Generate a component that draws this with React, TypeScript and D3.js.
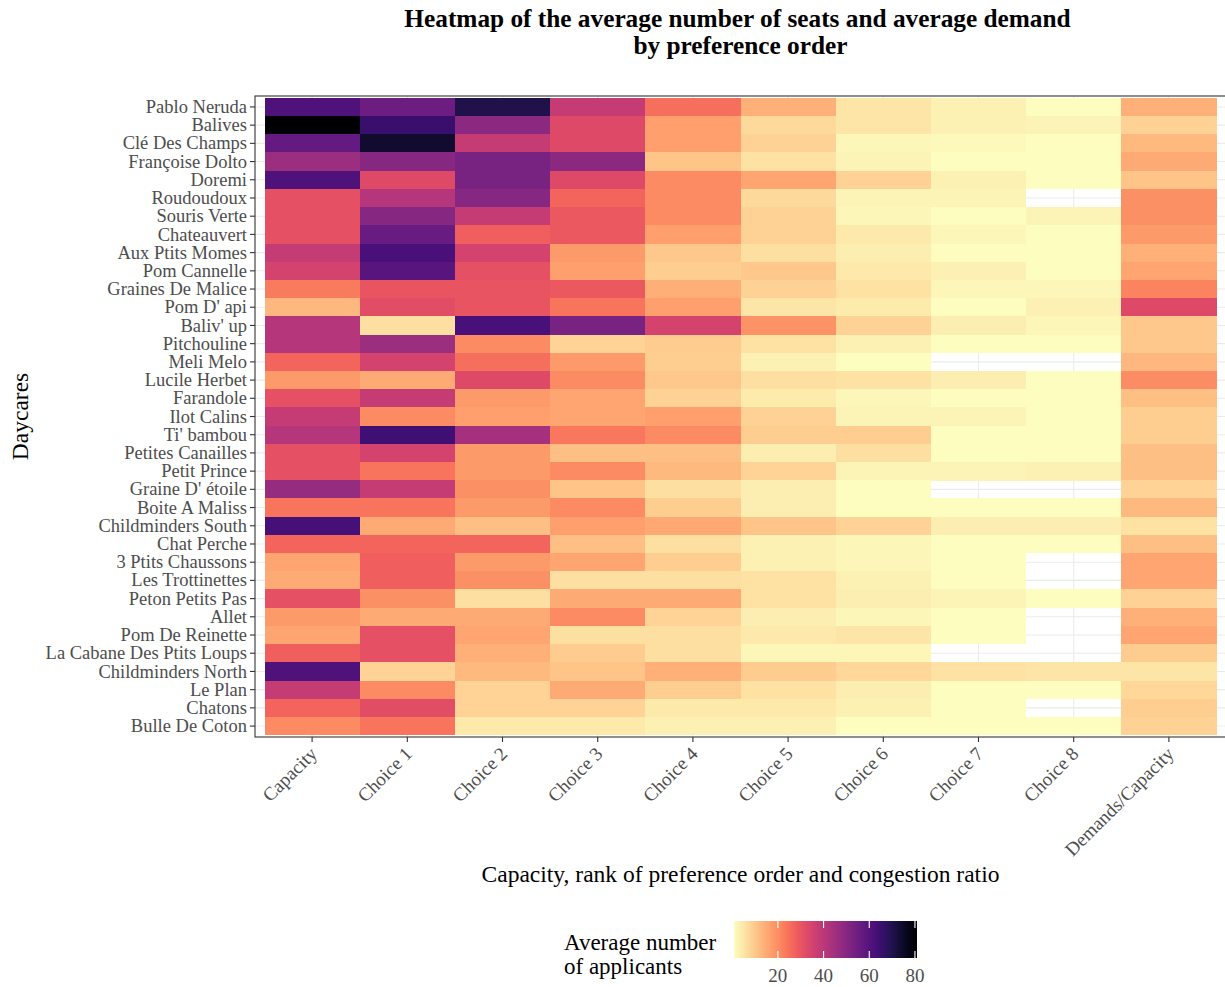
import React from 'react';
import * as d3 from 'd3';

const daycares = [
  'Pablo Neruda', 'Balives', 'Clé Des Champs', 'Françoise Dolto', 'Doremi', 'Roudoudoux',
  'Souris Verte', 'Chateauvert', 'Aux Ptits Momes', 'Pom Cannelle', 'Graines De Malice',
  "Pom D' api", "Baliv' up", 'Pitchouline', 'Meli Melo', 'Lucile Herbet', 'Farandole',
  'Ilot Calins', "Ti' bambou", 'Petites Canailles', 'Petit Prince', "Graine D' étoile",
  'Boite A Maliss', 'Childminders South', 'Chat Perche', '3 Ptits Chaussons',
  'Les Trottinettes', 'Peton Petits Pas', 'Allet', 'Pom De Reinette',
  'La Cabane Des Ptits Loups', 'Childminders North', 'Le Plan', 'Chatons', 'Bulle De Coton',
];

const columns = [
  'Capacity', 'Choice 1', 'Choice 2', 'Choice 3', 'Choice 4', 'Choice 5',
  'Choice 6', 'Choice 7', 'Choice 8', 'Demands/Capacity',
];

type V = number | null;

const capacity: V[] = [61, 80.9, 57, 46, 61, 31, 31, 31, 38, 35, 23, 13, 41, 41, 27, 18, 31, 38, 41, 31, 31, 47, 24, 63, 27, 16, 15, 31, 18, 16, 28, 61, 38, 27, 20.5];
const choice1: V[] = [55, 65, 74, 50, 33, 41, 50, 56, 62, 59, 30, 32, 6, 46, 35, 15, 38, 20.5, 64, 35, 24, 38, 24, 15, 27, 28, 28, 19.5, 15, 31, 31, 8, 20.5, 32, 24];
const choice2: V[] = [70, 49, 38, 53, 53, 50, 38, 28, 35, 31, 30, 30, 62, 20.5, 25, 33, 18, 17, 44, 18, 18, 19.5, 18, 11.5, 27, 18, 19.5, 6, 15, 16, 14, 12.5, 8, 8, 4.5];
const choice3: V[] = [38, 33, 33, 49, 33, 27, 29, 29, 18, 17, 29, 24, 53, 8, 18, 20.5, 16, 16, 23.5, 11.5, 20.5, 10.5, 20.5, 17, 11.5, 16, 6, 15, 20.5, 6, 9.5, 10.5, 15, 8, 4.5];
const choice4: V[] = [25, 17, 17, 10.5, 20.5, 20.5, 20.5, 17, 10, 9, 14.5, 17, 35, 9.5, 9, 10, 8.5, 17, 20.5, 11.5, 12.5, 6, 9, 15.5, 6, 9, 6, 15, 8, 6, 6, 14, 9, 4.5, 3];
const choice5: V[] = [14, 7, 8.5, 5.5, 16, 7, 8.5, 8.5, 6, 10, 8.5, 5, 19, 5.5, 3, 6, 4, 8.5, 9, 3.5, 8, 3.5, 3.5, 10.5, 3, 3, 5.5, 5.5, 3.5, 4.5, 2, 9.5, 5.5, 4.5, 3];
const choice6: V[] = [5, 5, 2, 2.5, 8.5, 2.5, 2, 4.5, 3.5, 4.5, 5.5, 4, 8.5, 3, 1, 5.5, 2, 2.5, 9, 6, 2.5, 1, 1, 8, 2, 2, 3, 3.5, 2, 5, 2, 7.5, 3.5, 3, 1];
const choice7: V[] = [3, 3, 1.5, 1, 3, 2.5, 1, 2, 1, 3, 2, 1, 3.5, 1, null, 3.5, 1, 2.5, 1, 1, 2.5, null, 1, 3.5, 1, 1, 1, 2.5, 1, 1, null, 5.5, 1, 1, 1];
const choice8: V[] = [0.8, 2.5, 1, 1, 1, null, 2.5, 1, 1, 1, 2, 3, 2, 1, null, 1, 1, 1, 1, 1, 3, null, 1, 3.5, 1, null, null, 1, null, null, null, 5, 1, null, 1];
const demandsCapacity: V[] = [14, 8.5, 12.5, 15, 10.5, 19.5, 19.5, 18, 14, 16, 21.5, 33, 10, 10, 13, 20, 11.5, 9, 9, 11.5, 11.5, 8, 12.5, 5.5, 11.5, 16, 16, 8.5, 14, 16, 9.5, 5, 7.5, 9, 8.5];

const seriesByColumn: V[][] = [capacity, choice1, choice2, choice3, choice4, choice5, choice6, choice7, choice8, demandsCapacity];

const legendTicks = [20, 40, 60, 80];

const titleLines = ['Heatmap of the average number of seats and average demand', 'by preference order'];
const xTitle = 'Capacity, rank of preference order and congestion ratio';
const yTitle = 'Daycares';
const legendTitle = ['Average number', 'of applicants'];

const FONT = '"Liberation Serif", "Times New Roman", serif';

export default function App() {
  const W = 1225;
  const H = 987;
  const panel = { l: 255, r: 1226, t: 96, b: 737 };

  const x = d3.scaleBand<string>().domain(columns).range([panel.l, panel.r]).paddingInner(0).paddingOuter(0.1);
  const y = d3.scaleBand<string>().domain(daycares).range([panel.t, panel.b]).paddingInner(0).paddingOuter(0.1);

  const all = seriesByColumn.flat().filter((v): v is number => v != null);
  const [vmin, vmax] = d3.extent(all) as [number, number];
  const color = d3.scaleSequential((t: number) => d3.interpolateMagma(1 - t)).domain([vmin, vmax]);

  const bw = x.bandwidth();
  const bh = y.bandwidth();

  const cells: { key: string; x: number; y: number; fill: string }[] = [];
  columns.forEach((c, ci) => {
    daycares.forEach((d, di) => {
      const v = seriesByColumn[ci][di];
      if (v == null) return;
      cells.push({ key: `${c}-${d}`, x: x(c)!, y: y(d)!, fill: color(v) });
    });
  });

  const leg = { x0: 734, x1: 917, y0: 921, y1: 958 };
  const lx = d3.scaleLinear().domain([vmin, vmax]).range([leg.x0, leg.x1]);
  const gradStops = d3.range(0, 1.0001, 0.05).map((t) => ({ t, c: color(vmin + t * (vmax - vmin)) }));

  const tickColor = '#333333';
  const labelColor = '#4D4D4D';

  return (
    <svg width={W} height={H} style={{ position: 'absolute', left: 0, top: 0, display: 'block', background: '#fff' }} fontFamily={FONT}>
      <defs>
        <linearGradient id="legGrad" x1="0" x2="1" y1="0" y2="0">
          {gradStops.map((s) => (
            <stop key={s.t} offset={`${s.t * 100}%`} stopColor={s.c} />
          ))}
        </linearGradient>
      </defs>
      <rect x={0} y={0} width={W} height={H} fill="#fff" />

      {/* Title */}
      <text x={(panel.l + panel.r) / 2 - 3} y={27} textAnchor="middle" fontWeight="bold" fontSize={25.3} fill="#000">
        {titleLines[0]}
      </text>
      <text x={(panel.l + panel.r) / 2} y={54} textAnchor="middle" fontWeight="bold" fontSize={25.3} fill="#000">
        {titleLines[1]}
      </text>

      {/* panel background + grid */}
      <rect x={panel.l} y={panel.t} width={panel.r - panel.l} height={panel.b - panel.t} fill="#fff" />
      {columns.map((c) => (
        <line key={`gx-${c}`} x1={x(c)! + bw / 2} x2={x(c)! + bw / 2} y1={panel.t} y2={panel.b} stroke="#EBEBEB" strokeWidth={1.1} />
      ))}
      {daycares.map((d) => (
        <line key={`gy-${d}`} x1={panel.l} x2={panel.r} y1={y(d)! + bh / 2} y2={y(d)! + bh / 2} stroke="#EBEBEB" strokeWidth={1.1} />
      ))}

      {/* tiles */}
      <g shapeRendering="crispEdges">
        {cells.map((c) => (
          <rect key={c.key} x={c.x} y={c.y} width={bw + 0.3} height={bh + 0.3} fill={c.fill} />
        ))}
      </g>

      {/* panel border */}
      <rect x={panel.l} y={panel.t} width={panel.r - panel.l} height={panel.b - panel.t} fill="none" stroke={tickColor} strokeWidth={1.1} />

      {/* y axis */}
      {daycares.map((d) => {
        const cy = y(d)! + bh / 2;
        return (
          <g key={`yt-${d}`}>
            <line x1={panel.l - 5} x2={panel.l} y1={cy} y2={cy} stroke={tickColor} strokeWidth={1.1} />
            <text x={panel.l - 8} y={cy} dy="0.33em" textAnchor="end" fontSize={18.5} fill={labelColor}>
              {d}
            </text>
          </g>
        );
      })}

      {/* x axis */}
      {columns.map((c) => {
        const cx = x(c)! + bw / 2;
        return (
          <g key={`xt-${c}`}>
            <line x1={cx} x2={cx} y1={panel.b} y2={panel.b + 5} stroke={tickColor} strokeWidth={1.1} />
            <text transform={`translate(${cx + 6},${panel.b + 18}) rotate(-45)`} textAnchor="end" fontSize={19} fill={labelColor}>
              {c}
            </text>
          </g>
        );
      })}

      {/* axis titles */}
      <text x={(panel.l + panel.r) / 2} y={882} textAnchor="middle" fontSize={23.5} fill="#000">
        {xTitle}
      </text>
      <text transform={`translate(28,${(panel.t + panel.b) / 2}) rotate(-90)`} textAnchor="middle" fontSize={23.5} fill="#000">
        {yTitle}
      </text>

      {/* legend */}
      <text x={564} y={950} fontSize={23} fill="#000">
        {legendTitle[0]}
      </text>
      <text x={564} y={974} fontSize={23} fill="#000">
        {legendTitle[1]}
      </text>
      <rect x={leg.x0} y={leg.y0} width={leg.x1 - leg.x0} height={leg.y1 - leg.y0} fill="url(#legGrad)" />
      {legendTicks.map((t) => (
        <g key={`lt-${t}`}>
          <line x1={lx(t)} x2={lx(t)} y1={leg.y0} y2={leg.y0 + 7} stroke="#fff" strokeWidth={1.1} />
          <line x1={lx(t)} x2={lx(t)} y1={leg.y1 - 7} y2={leg.y1} stroke="#fff" strokeWidth={1.1} />
          <text x={lx(t)} y={982} textAnchor="middle" fontSize={19} fill={labelColor}>
            {t}
          </text>
        </g>
      ))}
    </svg>
  );
}
